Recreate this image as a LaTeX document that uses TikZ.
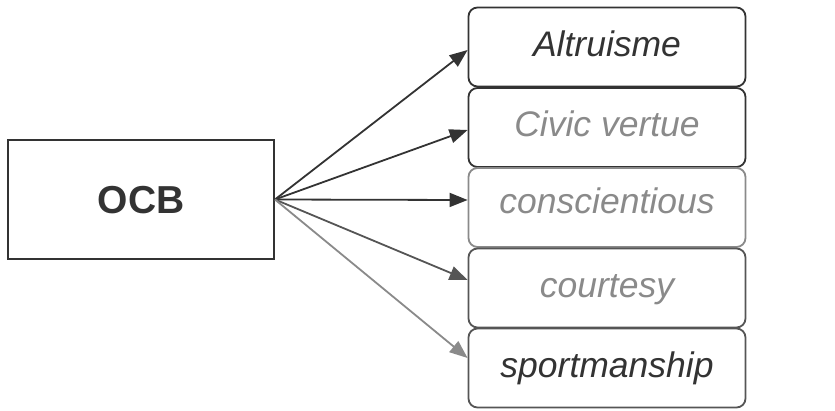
\documentclass[tikz,border=0pt]{standalone}
\usepackage{fontspec}
\setmainfont{Liberation Sans}
\usetikzlibrary{arrows.meta}
\definecolor{ink}{HTML}{333333}
\definecolor{inkmid}{HTML}{555555}
\definecolor{inklight}{HTML}{8A8A8A}
\tikzset{
  mainbox/.style={draw=ink, line width=1.9pt, rectangle, inner sep=0pt,
    minimum width=266pt, minimum height=119pt,
    font=\fontsize{39}{39}\selectfont\bfseries, text=ink,
    text height=28pt, text depth=1pt},
  dimbox/.style={draw=#1, line width=1.8pt, rectangle, rounded corners=9pt,
    inner sep=0pt, minimum width=277pt, minimum height=79pt,
    font=\fontsize{35.5}{35.5}\selectfont\itshape,
    text height=27pt, text depth=9pt},
  link/.style={draw=#1, line width=1.8pt,
    -{Triangle[length=18pt,width=14pt]}},
}
\begin{document}
\begin{tikzpicture}[x=1pt,y=-1pt]
  \useasboundingbox (0,0) rectangle (835,410);
  % source construct
  \node[mainbox] (ocb) at (141,199.5) {OCB};
  % the five dimensions, stacked
  \node[dimbox=ink, text=ink]            (alt)  at (607,47)    {Altruisme};
  \node[dimbox=ink, text=inklight]       (civ)  at (607,127.5) {Civic vertue};
  \node[dimbox=inklight, text=inklight, text height=24pt, text depth=12pt]
                                         (con)  at (607,207.5) {conscientious};
  \node[dimbox=inkmid, text=inklight]    (cou)  at (607,288)   {courtesy};
  \node[dimbox=inkmid, text=ink]         (spo)  at (607,368)   {sportmanship};
  % links
  \draw[link=ink]      (ocb.east) -- ([yshift=-3pt]alt.west);
  \draw[link=ink]      (ocb.east) -- ([yshift=-2.5pt]civ.west);
  \draw[link=ink]      (ocb.east) -- ([yshift=7.5pt]con.west);
  \draw[link=inkmid]   (ocb.east) -- ([yshift=8pt]cou.west);
  \draw[link=inklight] (ocb.east) -- ([yshift=10pt]spo.west);
\end{tikzpicture}
\end{document}
